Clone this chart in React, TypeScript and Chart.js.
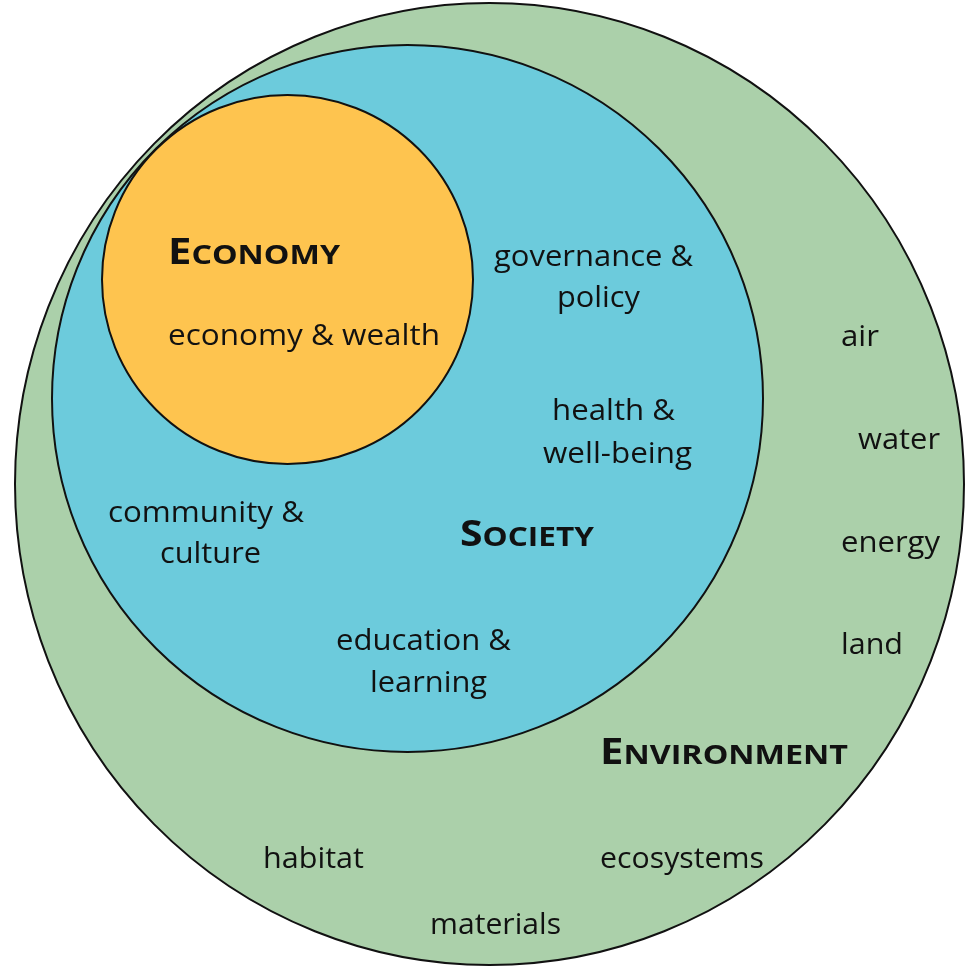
import React, { useEffect, useRef } from 'react';
import { Chart, registerables } from 'chart.js';

Chart.register(...registerables);

// ---- circle data (diagram units = reference pixels) ----
const circleNames = ['Environment', 'Society', 'Economy'];
const circleCenterX = [489.5, 407.5, 287.5];
const circleCenterY = [484, 398.5, 279.5];
const circleRadiusX = [474.5, 355.5, 185.5];
const circleRadiusY = [481, 353.5, 184.5];
const circleColors = ['#abd0aa', '#6ccbdc', '#fec44f'];

// ---- title labels (small caps) ----
const titleLabels = ['Economy', 'Society', 'Environment'];
const titleLeft = [168, 460, 600];
const titleRight = [340, 594, 848];
const titleBaseline = [264, 546, 764];

// ---- item labels ----
const itemLabels = [
  'economy & wealth',
  'governance &', 'policy',
  'health &', 'well-being',
  'community &', 'culture',
  'education &', 'learning',
  'air', 'water', 'energy', 'land',
  'habitat', 'ecosystems', 'materials',
];
const itemLeft = [168, 494, 557, 552, 543, 108, 160, 336, 370, 841, 858, 841, 841, 263, 600, 430];
const itemRight = [440, 693, 640, 675, 692, 304, 261, 511, 487, 879, 940, 940, 903, 364, 764, 561];
const itemBaseline = [345, 266, 307, 420, 463, 522, 563, 650, 692, 346, 449, 552, 654, 868, 868, 934];

const BODY_FONT = '"Open Sans", "Noto Sans", sans-serif';

const diagramPlugin = {
  id: 'diagram',
  beforeDatasetsDraw(chart: any) {
    const { ctx, scales } = chart;
    const xs = scales.x;
    const ys = scales.y;
    ctx.save();
    chart.data.datasets.forEach((ds: any, i: number) => {
      const cx = xs.getPixelForValue(circleCenterX[i]);
      const cy = ys.getPixelForValue(circleCenterY[i]);
      const rx = Math.abs(xs.getPixelForValue(circleCenterX[i] + circleRadiusX[i]) - cx);
      const ry = Math.abs(ys.getPixelForValue(circleCenterY[i] + circleRadiusY[i]) - cy);
      ctx.beginPath();
      ctx.ellipse(cx, cy, rx, ry, 0, 0, Math.PI * 2);
      ctx.fillStyle = ds.backgroundColor;
      ctx.fill();
      ctx.lineWidth = 2;
      ctx.strokeStyle = '#111111';
      ctx.stroke();
    });
    ctx.restore();
  },
  afterDatasetsDraw(chart: any) {
    const { ctx, scales } = chart;
    const xs = scales.x;
    const ys = scales.y;
    ctx.save();
    ctx.fillStyle = '#111111';
    ctx.textBaseline = 'alphabetic';
    ctx.textAlign = 'left';

    // items
    ctx.font = `30px ${BODY_FONT}`;
    itemLabels.forEach((t, i) => {
      const l = xs.getPixelForValue(itemLeft[i]);
      const r = xs.getPixelForValue(itemRight[i]);
      const b = ys.getPixelForValue(itemBaseline[i]);
      const w = ctx.measureText(t).width;
      const s = (r - l) / w;
      ctx.save();
      ctx.translate(l, b);
      ctx.scale(s, 1);
      ctx.fillText(t, 0, 0);
      ctx.restore();
    });

    // titles in small caps
    const big = 35;
    const small = Math.round(big * 0.78);
    titleLabels.forEach((t, i) => {
      const first = t[0].toUpperCase();
      const rest = t.slice(1).toUpperCase();
      ctx.font = `bold ${big}px ${BODY_FONT}`;
      const w1 = ctx.measureText(first).width;
      ctx.font = `bold ${small}px ${BODY_FONT}`;
      const w2 = ctx.measureText(rest).width;
      const l = xs.getPixelForValue(titleLeft[i]);
      const r = xs.getPixelForValue(titleRight[i]);
      const b = ys.getPixelForValue(titleBaseline[i]);
      const s = (r - l) / (w1 + w2);
      ctx.save();
      ctx.translate(l, b);
      ctx.scale(s, 1);
      ctx.font = `bold ${big}px ${BODY_FONT}`;
      ctx.fillText(first, 0, 0);
      ctx.font = `bold ${small}px ${BODY_FONT}`;
      ctx.fillText(rest, w1, 0);
      ctx.restore();
    });
    ctx.restore();
  },
};

export default function App() {
  const canvasRef = useRef<HTMLCanvasElement | null>(null);

  useEffect(() => {
    let chart: Chart | null = null;
    let cancelled = false;
    const make = () => {
      if (cancelled || !canvasRef.current) return;
      chart = new Chart(canvasRef.current, {
        type: 'scatter',
        data: {
          datasets: circleNames.map((name, i) => ({
            label: name,
            data: [{ x: circleCenterX[i], y: circleCenterY[i] }],
            backgroundColor: circleColors[i],
            pointRadius: 0,
            pointHoverRadius: 0,
          })),
        },
        options: {
          animation: false,
          responsive: true,
          maintainAspectRatio: false,
          events: [],
          layout: { padding: 0 },
          plugins: { legend: { display: false }, tooltip: { enabled: false } },
          scales: {
            x: { type: 'linear', min: 0, max: 965, display: false },
            y: { type: 'linear', min: 0, max: 967, reverse: true, display: false },
          },
        },
        plugins: [diagramPlugin],
      });
    };
    const fontsAny: any = (document as any).fonts;
    if (fontsAny && fontsAny.load) {
      Promise.all([
        fontsAny.load('30px "Open Sans"'),
        fontsAny.load('bold 35px "Open Sans"'),
      ]).then(make, make);
    } else {
      make();
    }
    return () => {
      cancelled = true;
      if (chart) chart.destroy();
    };
  }, []);

  return (
    <div style={{ position: 'fixed', left: 0, top: 0, width: 965, height: 967, background: '#ffffff' }}>
      <canvas ref={canvasRef} />
    </div>
  );
}
